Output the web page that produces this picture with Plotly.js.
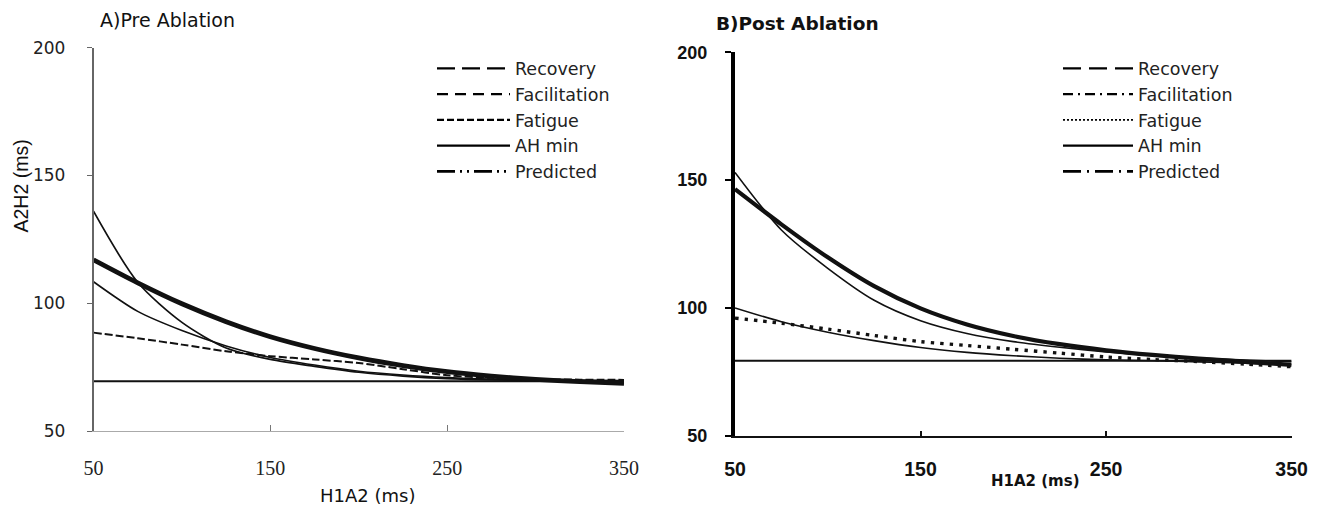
<!DOCTYPE html>
<html>
<head>
<meta charset="utf-8">
<script src="https://cdn.plot.ly/plotly-3.0.1.min.js"></script>
<style>
  html, body { margin: 0; padding: 0; background: #ffffff; }
  #chart { width: 1320px; height: 508px; }
</style>
</head>
<body>
<div id="chart"></div>
<script>
// ---------- data ----------
const h1a2 = [50, 75, 100, 125, 150, 175, 200, 225, 250, 275, 300, 325, 350];
const xTickVals = [50, 150, 250, 350];
const yTickVals = [50, 100, 150, 200];
const seriesNames = ["Recovery", "Facilitation", "Fatigue", "AH min", "Predicted"];

// A) Pre ablation
const preRecovery     = [136, 108.2, 92.5, 82.5, 78, 75.3, 73, 71.5, 70.5, 70, 69.8, 69.7, 69.6];
const preFacilitation = [108.4, 96.8, 89.3, 83.3, 78.8, 75.8, 73.4, 71.9, 70.9, 70.3, 70, 69.8, 69.7];
const preFatigue      = [88.5, 86.3, 83.8, 81.2, 79.3, 78, 76.6, 74.2, 71.8, 70.8, 70.3, 70.1, 70];
const preAHmin        = [69.5, 69.5, 69.5, 69.5, 69.5, 69.5, 69.5, 69.5, 69.5, 69.5, 69.5, 69.5, 69.5];
const prePredicted    = [117, 108, 99.8, 92.8, 86.9, 82.3, 78.6, 75.6, 73.2, 71.5, 70.2, 69.3, 68.6];

// B) Post ablation
const postRecovery     = [153, 130.5, 115.5, 103, 95, 90, 86.8, 84.6, 82.8, 81.4, 80.4, 79.6, 79];
const postFacilitation = [100, 94.6, 90.5, 87.2, 84.5, 82.6, 81.3, 80.3, 79.7, 79.3, 78.9, 78.4, 77.8];
const postFatigue      = [96, 94, 91.7, 89.2, 86.8, 85.3, 83.8, 82.3, 80.8, 79.8, 79, 78, 77];
const postAHmin        = [79.3, 79.3, 79.3, 79.3, 79.3, 79.3, 79.3, 79.3, 79.3, 79.3, 79.3, 79.3, 79.3];
const postPredicted    = [146.5, 132.7, 119.8, 108.5, 99.8, 93.5, 89, 85.8, 83.4, 81.6, 80.2, 78.9, 77.7];

// ---------- styles ----------
const INK = "#111111";
// how each curve looks in the plot
const preDraw = [
  { width: 1.7, dash: "solid" },
  { width: 1.6, dash: "solid" },
  { width: 2.0, dash: "8px,3px" },
  { width: 2.0, dash: "solid" },
  { width: 4.8, dash: "solid" }
];
const postDraw = [
  { width: 1.6, dash: "solid" },
  { width: 1.6, dash: "solid" },
  { width: 3.4, dash: "3.4px,6px" },
  { width: 2.0, dash: "solid" },
  { width: 4.2, dash: "solid" }
];
// how each entry looks in the legend
const preKey = [
  { width: 2.4, dash: "18px,7px" },
  { width: 2.4, dash: "11px,7px" },
  { width: 2.2, dash: "7px,3px" },
  { width: 2.4, dash: "solid" },
  { width: 2.6, dash: "18px,5px,2px,5px,2px,5px" }
];
const postKey = [
  { width: 2.4, dash: "18px,8px" },
  { width: 2.4, dash: "10px,5px,2px,5px" },
  { width: 1.8, dash: "2px,2px" },
  { width: 2.4, dash: "solid" },
  { width: 2.6, dash: "18px,6px,2px,6px" }
];

const preSeries = [preRecovery, preFacilitation, preFatigue, preAHmin, prePredicted];
const postSeries = [postRecovery, postFacilitation, postFatigue, postAHmin, postPredicted];

const traces = [];
function addPanel(series, draw, key, xa, ya, legendId, tag) {
  // curves (drawn as they appear in the figure)
  const order = [3, 2, 1, 0, 4];
  order.forEach(i => {
    traces.push({
      type: "scatter", mode: "lines",
      x: h1a2, y: series[i],
      xaxis: xa, yaxis: ya,
      name: seriesNames[i],
      legendgroup: tag + i,
      legend: legendId,
      showlegend: false,
      line: { color: INK, width: draw[i].width, dash: draw[i].dash, shape: "spline", smoothing: 0.8 },
      hovertemplate: seriesNames[i] + ": %{y}<extra></extra>"
    });
  });
  // legend keys (styled like the figure's legend)
  seriesNames.forEach((nm, i) => {
    traces.push({
      type: "scatter", mode: "lines",
      x: [null], y: [null],
      xaxis: xa, yaxis: ya,
      name: nm,
      legendgroup: tag + i,
      legend: legendId,
      showlegend: true,
      line: { color: "#000000", width: key[i].width, dash: key[i].dash },
      hoverinfo: "skip"
    });
  });
}
addPanel(preSeries, preDraw, preKey, "x", "y", "legend", "pre");
addPanel(postSeries, postDraw, postKey, "x2", "y2", "legend2", "post");

const W = 1320, H = 508;
const px = v => v / W;
const py = v => 1 - v / H;

const layout = {
  width: W, height: H,
  margin: { l: 0, r: 0, t: 0, b: 0 },
  paper_bgcolor: "#ffffff",
  plot_bgcolor: "#ffffff",
  font: { family: "DejaVu Sans", color: INK },
  showlegend: true,
  hovermode: "closest",
  xaxis: {
    domain: [px(93.5), px(624)], range: [50, 350], anchor: "y",
    tickmode: "array", tickvals: xTickVals,
    showgrid: false, zeroline: false,
    showline: true, linecolor: "#aaaaaa", linewidth: 1,
    ticks: "inside", ticklen: 6, tickwidth: 1, tickcolor: "#777777",
    tickfont: { family: "Liberation Serif", size: 20, color: "#222222" },
    ticklabelstandoff: 19
  },
  yaxis: {
    domain: [py(431), py(47.7)], range: [50, 200], anchor: "x",
    tickmode: "array", tickvals: yTickVals,
    showgrid: false, zeroline: false,
    showline: true, linecolor: "#666666", linewidth: 1.5,
    ticks: "outside", ticklen: 5, tickwidth: 1, tickcolor: "#666666",
    tickfont: { family: "DejaVu Sans", size: 17, color: "#222222" },
    ticklabelstandoff: 18
  },
  xaxis2: {
    domain: [px(735), px(1291.6)], range: [50, 350], anchor: "y2",
    tickmode: "array", tickvals: xTickVals,
    showgrid: false, zeroline: false,
    showline: true, linecolor: "#111111", linewidth: 2,
    ticks: "inside", ticklen: 5, tickwidth: 2, tickcolor: "#111111",
    tickfont: { family: "Liberation Sans", size: 19.5, weight: "bold", color: "#111111" },
    ticklabelstandoff: 15
  },
  yaxis2: {
    domain: [py(435.7), py(52.3)], range: [50, 200], anchor: "x2",
    tickmode: "array", tickvals: yTickVals,
    showgrid: false, zeroline: false,
    showline: true, linecolor: "#000000", linewidth: 4,
    ticks: "outside", ticklen: 6, tickwidth: 2, tickcolor: "#000000",
    tickfont: { family: "Liberation Sans", size: 18, weight: "bold", color: "#111111" },
    ticklabelstandoff: 14
  },
  legend: {
    x: px(432), y: py(50.5), xanchor: "left", yanchor: "top",
    bgcolor: "rgba(0,0,0,0)", borderwidth: 0,
    font: { family: "DejaVu Sans", size: 17.5, color: "#222222" },
    itemwidth: 73, tracegroupgap: 0, traceorder: "normal"
  },
  legend2: {
    x: px(1058), y: py(50.5), xanchor: "left", yanchor: "top",
    bgcolor: "rgba(0,0,0,0)", borderwidth: 0,
    font: { family: "DejaVu Sans", size: 17.5, color: "#222222" },
    itemwidth: 70, tracegroupgap: 0, traceorder: "normal"
  },
  annotations: [
    { text: "A)Pre Ablation", xref: "paper", yref: "paper", x: px(98), y: py(20),
      xanchor: "left", yanchor: "middle", showarrow: false,
      font: { family: "DejaVu Sans", size: 19, color: "#111111" } },
    { text: "B)Post Ablation", xref: "paper", yref: "paper", x: px(714), y: py(23),
      xanchor: "left", yanchor: "middle", showarrow: false,
      font: { family: "DejaVu Sans", size: 18.5, weight: "bold", color: "#111111" } },
    { text: "A2H2 (ms)", xref: "paper", yref: "paper", x: px(20), y: py(186.5),
      xanchor: "center", yanchor: "middle", textangle: -90, showarrow: false,
      font: { family: "Liberation Sans", size: 19.5, color: "#111111" } },
    { text: "H1A2 (ms)", xref: "paper", yref: "paper", x: px(367.5), y: py(495),
      xanchor: "center", yanchor: "middle", showarrow: false,
      font: { family: "DejaVu Sans", size: 18, color: "#111111" } },
    { text: "H1A2 (ms)", xref: "paper", yref: "paper", x: px(1035.8), y: py(481),
      xanchor: "center", yanchor: "middle", showarrow: false,
      font: { family: "DejaVu Sans", size: 15, weight: "bold", color: "#111111" } }
  ]
};

Plotly.newPlot("chart", traces, layout, { displayModeBar: false, responsive: false });
</script>
</body>
</html>
